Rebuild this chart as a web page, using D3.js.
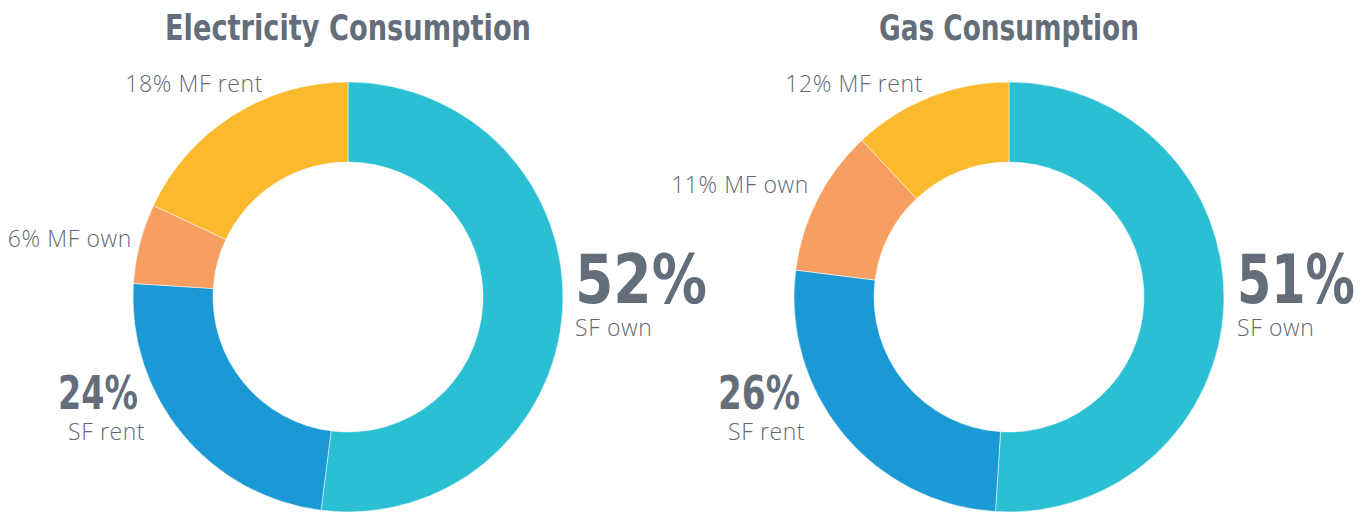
<!doctype html>
<html lang="en">
<head>
  <meta charset="utf-8">
  <title>Energy Consumption by Housing Type</title>
  <style>
    body { margin: 0; background: #fff; }
    .title { font-family: "DejaVu Sans", sans-serif; font-stretch: condensed; font-weight: 700; fill: #646e7a; }
    .lbl { font-family: "Open Sans", sans-serif; font-weight: 300; fill: #5f6975; letter-spacing: 0.6px; }
    .big { font-family: "DejaVu Sans", sans-serif; font-stretch: condensed; font-weight: 700; fill: #646e7a; }
  </style>
</head>
<body>
  <div id="chart"></div>
  <script src="https://d3js.org/d3.v7.min.js"></script>
  <script>
    // data
    const categories = ['SF own', 'SF rent', 'MF own', 'MF rent'];
    const electricity = [52, 24, 6, 18];
    const gas = [51, 26, 11, 12];
    const titles = ['Electricity Consumption', 'Gas Consumption'];

    const colors = d3.scaleOrdinal()
      .domain(categories)
      .range(['#2bbfd4', '#1a99d5', '#f79f60', '#fbb92d']);

    const width = 1367, height = 514;
    const outerR = 215, innerR = 135;

    // where each donut sits and where its labels go (relative to donut center)
    const charts = [
      {
        cx: 348, cy: 297, values: electricity, title: titles[0], titleW: 366,
        big: [{ i: 0, x: 227, y: 6, w: 132, size: 68 }, { i: 1, x: -290, y: 112, w: 80, size: 46 }],
        sub: [{ i: 0, x: 227, y: 39 }, { i: 1, x: -280, y: 143 }],
        small: [{ i: 3, x: -86, y: -205 }, { i: 2, x: -217, y: -50 }]
      },
      {
        cx: 1009, cy: 297, values: gas, title: titles[1], titleW: 260,
        big: [{ i: 0, x: 228, y: 6, w: 118, size: 68 }, { i: 1, x: -291, y: 112, w: 82, size: 46 }],
        sub: [{ i: 0, x: 228, y: 39 }, { i: 1, x: -281, y: 143 }],
        small: [{ i: 3, x: -87, y: -205 }, { i: 2, x: -201, y: -104 }]
      }
    ];

    const svg = d3.select('#chart').append('svg')
      .attr('width', width)
      .attr('height', height);

    const pie = d3.pie().sort(null).value(d => d);
    const arc = d3.arc().innerRadius(innerR).outerRadius(outerR);

    charts.forEach(c => {
      const g = svg.append('g').attr('transform', `translate(${c.cx},${c.cy})`);

      g.selectAll('path')
        .data(pie(c.values))
        .join('path')
        .attr('d', arc)
        .attr('fill', (d, i) => colors(categories[i]))
        .attr('stroke', '#fff')
        .attr('stroke-width', 0.5);

      g.append('text')
        .attr('class', 'title')
        .attr('x', -c.titleW / 2)
        .attr('y', -257)
        .attr('textLength', c.titleW)
        .attr('lengthAdjust', 'spacingAndGlyphs')
        .style('font-size', '36px')
        .text(c.title);

      c.big.forEach(b => {
        g.append('text')
          .attr('class', 'big')
          .attr('x', b.x)
          .attr('y', b.y)
          .attr('textLength', b.w)
          .attr('lengthAdjust', 'spacingAndGlyphs')
          .style('font-size', b.size + 'px')
          .text(c.values[b.i] + '%');
      });

      c.sub.forEach(s => {
        g.append('text')
          .attr('class', 'lbl')
          .attr('x', s.x)
          .attr('y', s.y)
          .style('font-size', '23px')
          .text(categories[s.i]);
      });

      c.small.forEach(s => {
        g.append('text')
          .attr('class', 'lbl')
          .attr('x', s.x + 1)
          .attr('y', s.y)
          .attr('text-anchor', 'end')
          .style('font-size', '23px')
          .text(c.values[s.i] + '% ' + categories[s.i]);
      });
    });
  </script>
</body>
</html>
